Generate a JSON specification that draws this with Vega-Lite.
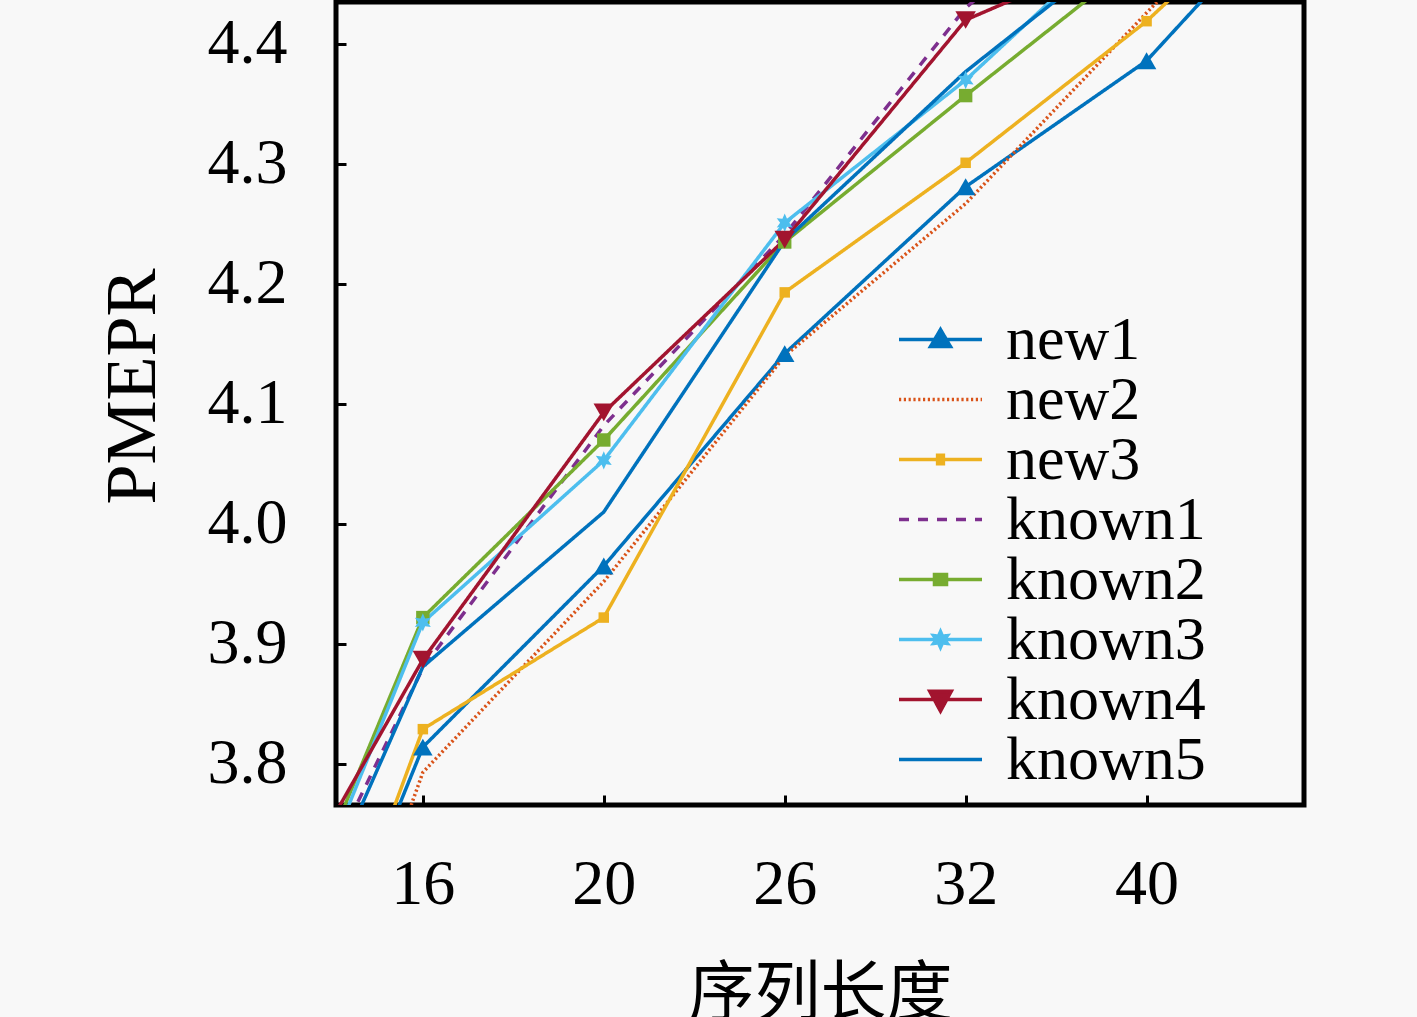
{
  "$schema": "https://vega.github.io/schema/vega-lite/v6.json",
  "width": 968,
  "height": 803,
  "autosize": "none",
  "padding": {"left": 336, "top": 2, "right": 113, "bottom": 212},
  "background": "#f8f8f8",
  "config": {
    "view": {"stroke": "#000000", "strokeWidth": 5},
    "axis": {
      "domain": false,
      "grid": false,
      "ticks": true,
      "tickSize": -10,
      "tickWidth": 3,
      "tickColor": "#000000",
      "labelFont": "Liberation Serif",
      "labelFontSize": 64,
      "labelColor": "#000000",
      "labelFlush": false,
      "labelOverlap": false,
      "titleColor": "#000000",
      "titleFontWeight": "normal"
    },
    "legend": {
      "title": null,
      "orient": "none",
      "legendX": 561,
      "legendY": 309,
      "padding": 0,
      "symbolSize": 6889,
      "symbolStrokeWidth": 3.5,
      "symbolOpacity": 1,
      "symbolFillColor": "transparent",
      "labelFont": "Liberation Serif",
      "labelFontSize": 62,
      "labelColor": "#000000",
      "labelOffset": 22,
      "labelLimit": 400,
      "clipHeight": 57,
      "rowPadding": -18.7
    }
  },
  "data": {
    "values": [
      {"series": "new1", "idx": 0, "pmepr": 3.443},
      {"series": "new1", "idx": 1, "pmepr": 3.814},
      {"series": "new1", "idx": 2, "pmepr": 3.965},
      {"series": "new1", "idx": 3, "pmepr": 4.142},
      {"series": "new1", "idx": 4, "pmepr": 4.281},
      {"series": "new1", "idx": 5, "pmepr": 4.386},
      {"series": "new1", "idx": 6, "pmepr": 4.55},
      {"series": "new2", "idx": 0, "pmepr": 3.37},
      {"series": "new2", "idx": 1, "pmepr": 3.793},
      {"series": "new2", "idx": 2, "pmepr": 3.952},
      {"series": "new2", "idx": 3, "pmepr": 4.14},
      {"series": "new2", "idx": 4, "pmepr": 4.267},
      {"series": "new2", "idx": 5, "pmepr": 4.426},
      {"series": "new2", "idx": 6, "pmepr": 4.58},
      {"series": "new3", "idx": 0, "pmepr": 3.42},
      {"series": "new3", "idx": 1, "pmepr": 3.829},
      {"series": "new3", "idx": 2, "pmepr": 3.922},
      {"series": "new3", "idx": 3, "pmepr": 4.193},
      {"series": "new3", "idx": 4, "pmepr": 4.301},
      {"series": "new3", "idx": 5, "pmepr": 4.419},
      {"series": "new3", "idx": 6, "pmepr": 4.56},
      {"series": "known1", "idx": 0, "pmepr": 3.569},
      {"series": "known1", "idx": 1, "pmepr": 3.88},
      {"series": "known1", "idx": 2, "pmepr": 4.082},
      {"series": "known1", "idx": 3, "pmepr": 4.241},
      {"series": "known1", "idx": 4, "pmepr": 4.43},
      {"series": "known1", "idx": 5, "pmepr": 4.56},
      {"series": "known2", "idx": 0, "pmepr": 3.559},
      {"series": "known2", "idx": 1, "pmepr": 3.922},
      {"series": "known2", "idx": 2, "pmepr": 4.07},
      {"series": "known2", "idx": 3, "pmepr": 4.235},
      {"series": "known2", "idx": 4, "pmepr": 4.357},
      {"series": "known2", "idx": 5, "pmepr": 4.476},
      {"series": "known3", "idx": 0, "pmepr": 3.546},
      {"series": "known3", "idx": 1, "pmepr": 3.918},
      {"series": "known3", "idx": 2, "pmepr": 4.053},
      {"series": "known3", "idx": 3, "pmepr": 4.251},
      {"series": "known3", "idx": 4, "pmepr": 4.37},
      {"series": "known3", "idx": 5, "pmepr": 4.51},
      {"series": "known4", "idx": 0, "pmepr": 3.622},
      {"series": "known4", "idx": 1, "pmepr": 3.887},
      {"series": "known4", "idx": 2, "pmepr": 4.093},
      {"series": "known4", "idx": 3, "pmepr": 4.237},
      {"series": "known4", "idx": 4, "pmepr": 4.42},
      {"series": "known4", "idx": 5, "pmepr": 4.485},
      {"series": "known5", "idx": 0, "pmepr": 3.54},
      {"series": "known5", "idx": 1, "pmepr": 3.881},
      {"series": "known5", "idx": 2, "pmepr": 4.01},
      {"series": "known5", "idx": 3, "pmepr": 4.236},
      {"series": "known5", "idx": 4, "pmepr": 4.377},
      {"series": "known5", "idx": 5, "pmepr": 4.496}
    ]
  },
  "encoding": {
    "x": {
      "field": "idx",
      "type": "quantitative",
      "scale": {"domain": [0.52, 5.87], "nice": false, "zero": false},
      "axis": {
        "values": [1, 2, 3, 4, 5],
        "labelExpr": "['16','20','26','32','40'][datum.value - 1]",
        "labelAlign": "center",
        "labelBaseline": "alphabetic",
        "labelPadding": 108,
        "title": "序列长度",
        "titleFont": "Noto Sans CJK SC",
        "titleFontSize": 66,
        "titleBaseline": "alphabetic",
        "titleY": 209
      }
    },
    "y": {
      "field": "pmepr",
      "type": "quantitative",
      "scale": {"domain": [3.7658, 4.435], "nice": false, "zero": false},
      "axis": {
        "values": [3.8, 3.9, 4.0, 4.1, 4.2, 4.3, 4.4],
        "format": ".1f",
        "labelPadding": 59,
        "labelBaseline": "middle",
        "title": "PMEPR",
        "titleFont": "Liberation Serif",
        "titleFontSize": 72,
        "titleAngle": 270,
        "titleBaseline": "alphabetic",
        "titleX": -182,
        "titleY": 384
      }
    }
  },
  "layer": [
    {
      "transform": [{"filter": "false"}],
      "mark": {"type": "point", "filled": false, "opacity": 1, "strokeWidth": 3.5, "clip": true},
      "encoding": {
        "color": {
          "field": "series",
          "type": "nominal",
          "scale": {
            "domain": ["new1", "new2", "new3", "known1", "known2", "known3", "known4", "known5"],
            "range": ["#0072BD", "#D95319", "#EDB120", "#7E2F8E", "#77AC30", "#4DBEEE", "#A2142F", "#0072BD"]
          },
          "legend": {"title": null}
        },
        "shape": {
          "field": "series",
          "type": "nominal",
          "scale": {
            "domain": ["new1", "new2", "new3", "known1", "known2", "known3", "known4", "known5"],
            "range": [
              "M-1,0H1M-0.24,0.17L0.24,0.17L0,-0.24ZM-0.12,0.1L0.12,0.1L0,-0.1Z",
              "M-1,0H1",
              "M-1,0H1M-0.07,-0.1H0.07V0.1H-0.07ZM0,-0.1V0.1",
              "M-1,0H1",
              "M-1,0H1M-0.145,-0.12H0.145V0.12H-0.145ZM-0.07,-0.06H0.07V0.06H-0.07Z",
              "M-1,0H1M0,-0.19L0.0475,-0.082L0.165,-0.095L0.095,0L0.165,0.095L0.0475,0.082L0,0.19L-0.0475,0.082L-0.165,0.095L-0.095,0L-0.165,-0.095L-0.0475,-0.082ZM0,-0.08V0.08",
              "M-1,0H1M-0.26,-0.2L0.26,-0.2L0,0.28ZM-0.13,-0.1L0.13,-0.1L0,0.14Z",
              "M-1,0H1"
            ]
          },
          "legend": {"title": null}
        },
        "strokeDash": {
          "field": "series",
          "type": "nominal",
          "scale": {
            "domain": ["new1", "new2", "new3", "known1", "known2", "known3", "known4", "known5"],
            "range": [[1, 0], [2.2, 2.6], [1, 0], [10, 9], [1, 0], [1, 0], [1, 0], [1, 0]]
          },
          "legend": {"title": null}
        }
      }
    },
    {
      "mark": {"type": "line", "strokeWidth": 3.5, "clip": true},
      "encoding": {
        "color": {"field": "series", "type": "nominal"},
        "strokeDash": {"field": "series", "type": "nominal"}
      }
    },
    {
      "transform": [{"filter": "datum.series == 'new1'"}],
      "mark": {"type": "point", "shape": "triangle-up", "size": 380, "filled": true, "opacity": 1, "clip": true},
      "encoding": {"color": {"field": "series", "type": "nominal"}}
    },
    {
      "transform": [{"filter": "datum.series == 'new3'"}],
      "mark": {"type": "point", "shape": "square", "size": 110, "filled": true, "opacity": 1, "clip": true},
      "encoding": {"color": {"field": "series", "type": "nominal"}}
    },
    {
      "transform": [{"filter": "datum.series == 'known2'"}],
      "mark": {"type": "point", "shape": "square", "size": 180, "filled": true, "opacity": 1, "clip": true},
      "encoding": {"color": {"field": "series", "type": "nominal"}}
    },
    {
      "transform": [{"filter": "datum.series == 'known3'"}],
      "mark": {
        "type": "point",
        "shape": "M0,-1L0.25,-0.433L0.866,-0.5L0.5,0L0.866,0.5L0.25,0.433L0,1L-0.25,0.433L-0.866,0.5L-0.5,0L-0.866,-0.5L-0.25,-0.433Z",
        "size": 340,
        "filled": true,
        "opacity": 1,
        "clip": true
      },
      "encoding": {"color": {"field": "series", "type": "nominal"}}
    },
    {
      "transform": [{"filter": "datum.series == 'known4'"}],
      "mark": {"type": "point", "shape": "triangle-down", "size": 420, "filled": true, "opacity": 1, "clip": true},
      "encoding": {"color": {"field": "series", "type": "nominal"}}
    }
  ]
}
